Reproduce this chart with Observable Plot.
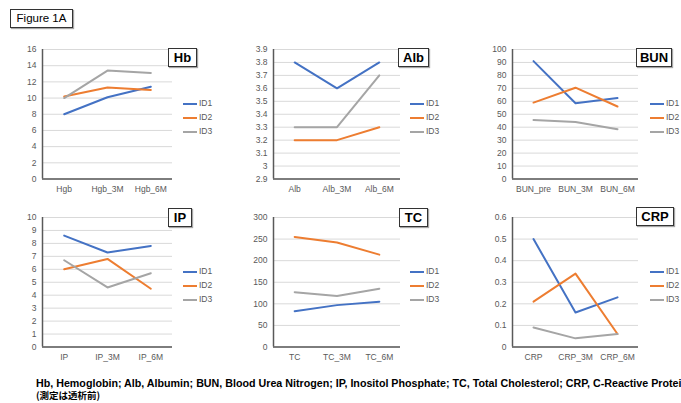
<!DOCTYPE html>
<html>
<head>
<meta charset="utf-8">
<script src="https://cdn.jsdelivr.net/npm/d3@7"></script>
<script src="https://cdn.jsdelivr.net/npm/@observablehq/plot@0.6"></script>
<style>
  html, body { margin: 0; padding: 0; background: #fff; }
  #root { position: relative; width: 681px; height: 403px; overflow: hidden; background: #fff;
          font-family: "Liberation Sans", Arial, Helvetica, sans-serif; }
  .box { position: absolute; border: 1px solid #333; background: #fff; box-sizing: border-box;
         text-align: center; color: #000; box-shadow: 1px 1px 1px rgba(0,0,0,0.35); }
  .ttl { font-weight: bold; font-size: 13px; line-height: 17px; height: 19px; }
  .leg { position: absolute; font-size: 8.5px; color: #595959; }
  .leg div { position: absolute; white-space: nowrap; }
  .leg span.sw { position: absolute; width: 14px; height: 2px; left: 0; }
  .leg span.tx { position: absolute; left: 16px; top: -5px; }
</style>
</head>
<body>
<div id="root"></div>
<script>
// ---- data ----
const series = ["ID1", "ID2", "ID3"];
const colors = ["#4472C4", "#ED7D31", "#A5A5A5"];

const hbCats = ["Hgb", "Hgb_3M", "Hgb_6M"];
const hbID1 = [8.0, 10.1, 11.4];
const hbID2 = [10.2, 11.3, 11.0];
const hbID3 = [10.0, 13.4, 13.1];
const hbTicks = [0, 2, 4, 6, 8, 10, 12, 14, 16];

const albCats = ["Alb", "Alb_3M", "Alb_6M"];
const albID1 = [3.8, 3.6, 3.8];
const albID2 = [3.2, 3.2, 3.3];
const albID3 = [3.3, 3.3, 3.7];
const albTicks = [2.9, 3.0, 3.1, 3.2, 3.3, 3.4, 3.5, 3.6, 3.7, 3.8, 3.9];

const bunCats = ["BUN_pre", "BUN_3M", "BUN_6M"];
const bunID1 = [91, 58.5, 62.5];
const bunID2 = [59, 70.5, 56];
const bunID3 = [45.5, 44, 38.5];
const bunTicks = [0, 10, 20, 30, 40, 50, 60, 70, 80, 90, 100];

const ipCats = ["IP", "IP_3M", "IP_6M"];
const ipID1 = [8.6, 7.3, 7.8];
const ipID2 = [6.0, 6.8, 4.5];
const ipID3 = [6.7, 4.6, 5.7];
const ipTicks = [0, 1, 2, 3, 4, 5, 6, 7, 8, 9, 10];

const tcCats = ["TC", "TC_3M", "TC_6M"];
const tcID1 = [83, 97, 105];
const tcID2 = [255, 242, 214];
const tcID3 = [127, 118, 135];
const tcTicks = [0, 50, 100, 150, 200, 250, 300];

const crpCats = ["CRP", "CRP_3M", "CRP_6M"];
const crpID1 = [0.50, 0.16, 0.23];
const crpID2 = [0.21, 0.34, 0.06];
const crpID3 = [0.09, 0.04, 0.06];
const crpTicks = [0, 0.1, 0.2, 0.3, 0.4, 0.5, 0.6];

const figureLabel = "Figure 1A";
const captionLine1 = "Hb, Hemoglobin; Alb, Albumin; BUN, Blood Urea Nitrogen; IP, Inositol Phosphate; TC, Total Cholesterol; CRP, C-Reactive Protein";
const captionLine2 = "(測定は透析前)";

// ---- layout ----
const colAxis = [42, 273, 512];
const colRight = [172, 400, 638];
const rowTop = [48.5, 217];
const rowBottom = [178, 346.5];
const legX = [183, 410, 650];
const legY = [[104, 118, 132], [272, 286, 300]];
const boxes = [
  {l: 168, t: 48, w: 29}, {l: 398, t: 48, w: 31}, {l: 636, t: 48, w: 36},
  {l: 168, t: 208, w: 24}, {l: 399, t: 208, w: 29}, {l: 636, t: 207, w: 38}
];

const panels = [
  {title: "Hb", cats: hbCats, vals: [hbID1, hbID2, hbID3], ticks: hbTicks, fmt: d => String(d)},
  {title: "Alb", cats: albCats, vals: [albID1, albID2, albID3], ticks: albTicks, fmt: d => String(+d.toFixed(1))},
  {title: "BUN", cats: bunCats, vals: [bunID1, bunID2, bunID3], ticks: bunTicks, fmt: d => String(d)},
  {title: "IP", cats: ipCats, vals: [ipID1, ipID2, ipID3], ticks: ipTicks, fmt: d => String(d)},
  {title: "TC", cats: tcCats, vals: [tcID1, tcID2, tcID3], ticks: tcTicks, fmt: d => String(d)},
  {title: "CRP", cats: crpCats, vals: [crpID1, crpID2, crpID3], ticks: crpTicks, fmt: d => String(+d.toFixed(2))}
];

const root = document.getElementById("root");

// figure label
const fig = document.createElement("div");
fig.className = "box";
Object.assign(fig.style, {left: "10px", top: "9px", width: "63px", height: "19px", fontSize: "11.5px", lineHeight: "17px"});
fig.textContent = figureLabel;
root.appendChild(fig);

panels.forEach((p, k) => {
  const c = k % 3, r = Math.floor(k / 3);
  const x0 = colAxis[c], x1 = colRight[c], y0 = rowTop[r], y1 = rowBottom[r];
  const ml = 40, mr = 2, mt = 8, mb = 22;
  const data = [];
  p.vals.forEach((vals, si) => vals.forEach((v, i) => data.push({i, v, s: series[si]})));
  const dom = [p.ticks[0], p.ticks[p.ticks.length - 1]];
  const chart = Plot.plot({
    width: ml + (x1 - x0) + mr,
    height: mt + (y1 - y0) + mb,
    marginLeft: ml, marginRight: mr, marginTop: mt, marginBottom: mb,
    style: {fontFamily: "'Liberation Sans', Arial, Helvetica, sans-serif", fontSize: "8.5px", color: "#595959", background: "transparent", overflow: "visible"},
    x: {type: "linear", domain: [-0.5, 2.5], label: null},
    y: {domain: dom, label: null},
    color: {domain: series, range: colors},
    marks: [
      Plot.gridY(p.ticks, {stroke: "#d9d9d9", strokeOpacity: 1, strokeWidth: 1}),
      Plot.axisY(p.ticks, {tickSize: 0, tickPadding: 6, tickFormat: p.fmt, label: null}),
      Plot.axisX([0, 1, 2], {tickSize: 0, tickPadding: 7, tickFormat: i => p.cats[i], label: null}),
      Plot.line(data, {x: "i", y: "v", z: "s", stroke: "s", strokeWidth: 2}),
      Plot.ruleY([dom[0]], {stroke: "#595959", strokeWidth: 1.5}),
      Plot.ruleX([-0.5], {stroke: "#595959", strokeWidth: 1.5})
    ]
  });
  Object.assign(chart.style, {position: "absolute", left: (x0 - ml) + "px", top: (y0 - mt) + "px"});
  root.appendChild(chart);

  // legend
  const leg = document.createElement("div");
  leg.className = "leg";
  leg.style.left = legX[c] + "px";
  leg.style.top = "0px";
  series.forEach((s, si) => {
    const row = document.createElement("div");
    row.style.top = (legY[r][si] - 1) + "px";
    row.style.left = "0px";
    const sw = document.createElement("span");
    sw.className = "sw";
    sw.style.background = colors[si];
    const tx = document.createElement("span");
    tx.className = "tx";
    tx.textContent = s;
    row.appendChild(sw); row.appendChild(tx);
    leg.appendChild(row);
  });
  root.appendChild(leg);

  // title box
  const b = boxes[k];
  const box = document.createElement("div");
  box.className = "box ttl";
  Object.assign(box.style, {left: b.l + "px", top: b.t + "px", width: b.w + "px"});
  box.textContent = p.title;
  root.appendChild(box);
});

// caption
const ns = "http://www.w3.org/2000/svg";
const cap = document.createElementNS(ns, "svg");
cap.setAttribute("width", 681); cap.setAttribute("height", 40);
Object.assign(cap.style, {position: "absolute", left: "0px", top: "370px"});
const t1 = document.createElementNS(ns, "text");
t1.setAttribute("x", 36); t1.setAttribute("y", 17);
t1.setAttribute("textLength", 652); t1.setAttribute("lengthAdjust", "spacingAndGlyphs");
t1.setAttribute("font-family", "'Liberation Sans', Arial, sans-serif");
t1.setAttribute("font-weight", "bold"); t1.setAttribute("font-size", "10.5");
t1.textContent = captionLine1;
const t2 = document.createElementNS(ns, "text");
t2.setAttribute("x", 36); t2.setAttribute("y", 29);
t2.setAttribute("font-family", "'Noto Sans CJK JP', sans-serif");
t2.setAttribute("font-weight", "bold"); t2.setAttribute("font-size", "9.5");
t2.textContent = captionLine2;
cap.appendChild(t1); cap.appendChild(t2);
root.appendChild(cap);
</script>
</body>
</html>
